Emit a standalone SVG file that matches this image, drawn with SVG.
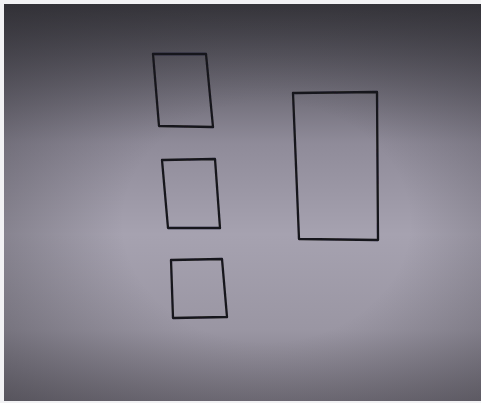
<svg xmlns="http://www.w3.org/2000/svg" width="481" height="403" viewBox="0 0 481 403">
  <style>
    .box { fill: none; stroke: #17161b; stroke-width: 2.3; stroke-linejoin: round; filter: url(#soft); }
  </style>
  <defs>
    <linearGradient id="paper" x1="0" y1="0" x2="0" y2="1">
      <stop offset="0" stop-color="#39383e"/>
      <stop offset="0.12" stop-color="#56545d"/>
      <stop offset="0.35" stop-color="#8f8b99"/>
      <stop offset="0.58" stop-color="#a6a2b0"/>
      <stop offset="0.82" stop-color="#9a96a3"/>
      <stop offset="1" stop-color="#76727d"/>
    </linearGradient>
    <radialGradient id="vignette" cx="0.55" cy="0.55" r="0.75">
      <stop offset="0.4" stop-color="#2a292f" stop-opacity="0"/>
      <stop offset="1" stop-color="#2a292f" stop-opacity="0.45"/>
    </radialGradient>
    <filter id="soft" x="-10%" y="-10%" width="120%" height="120%">
      <feGaussianBlur stdDeviation="0.5"/>
    </filter>
  </defs>
  <rect x="0" y="0" width="481" height="403" fill="#f2f2f4"/>
  <rect x="4" y="4" width="477" height="397" fill="url(#paper)"/>
  <rect x="4" y="4" width="477" height="397" fill="url(#vignette)"/>
  <g id="connectors"/>
  <g id="box1">
    <path class="box" d="M153,54 L206,54 L213,127 L159,126 Z"/>
  </g>
  <g id="box2">
    <path class="box" d="M162,160 L215,159 L220,228 L168,228 Z"/>
  </g>
  <g id="box3">
    <path class="box" d="M171,260 L222,259 L227,317 L173,318 Z"/>
  </g>
  <g id="box4">
    <path class="box" d="M293,93 L377,92 L378,240 L299,239 Z"/>
  </g>
</svg>
